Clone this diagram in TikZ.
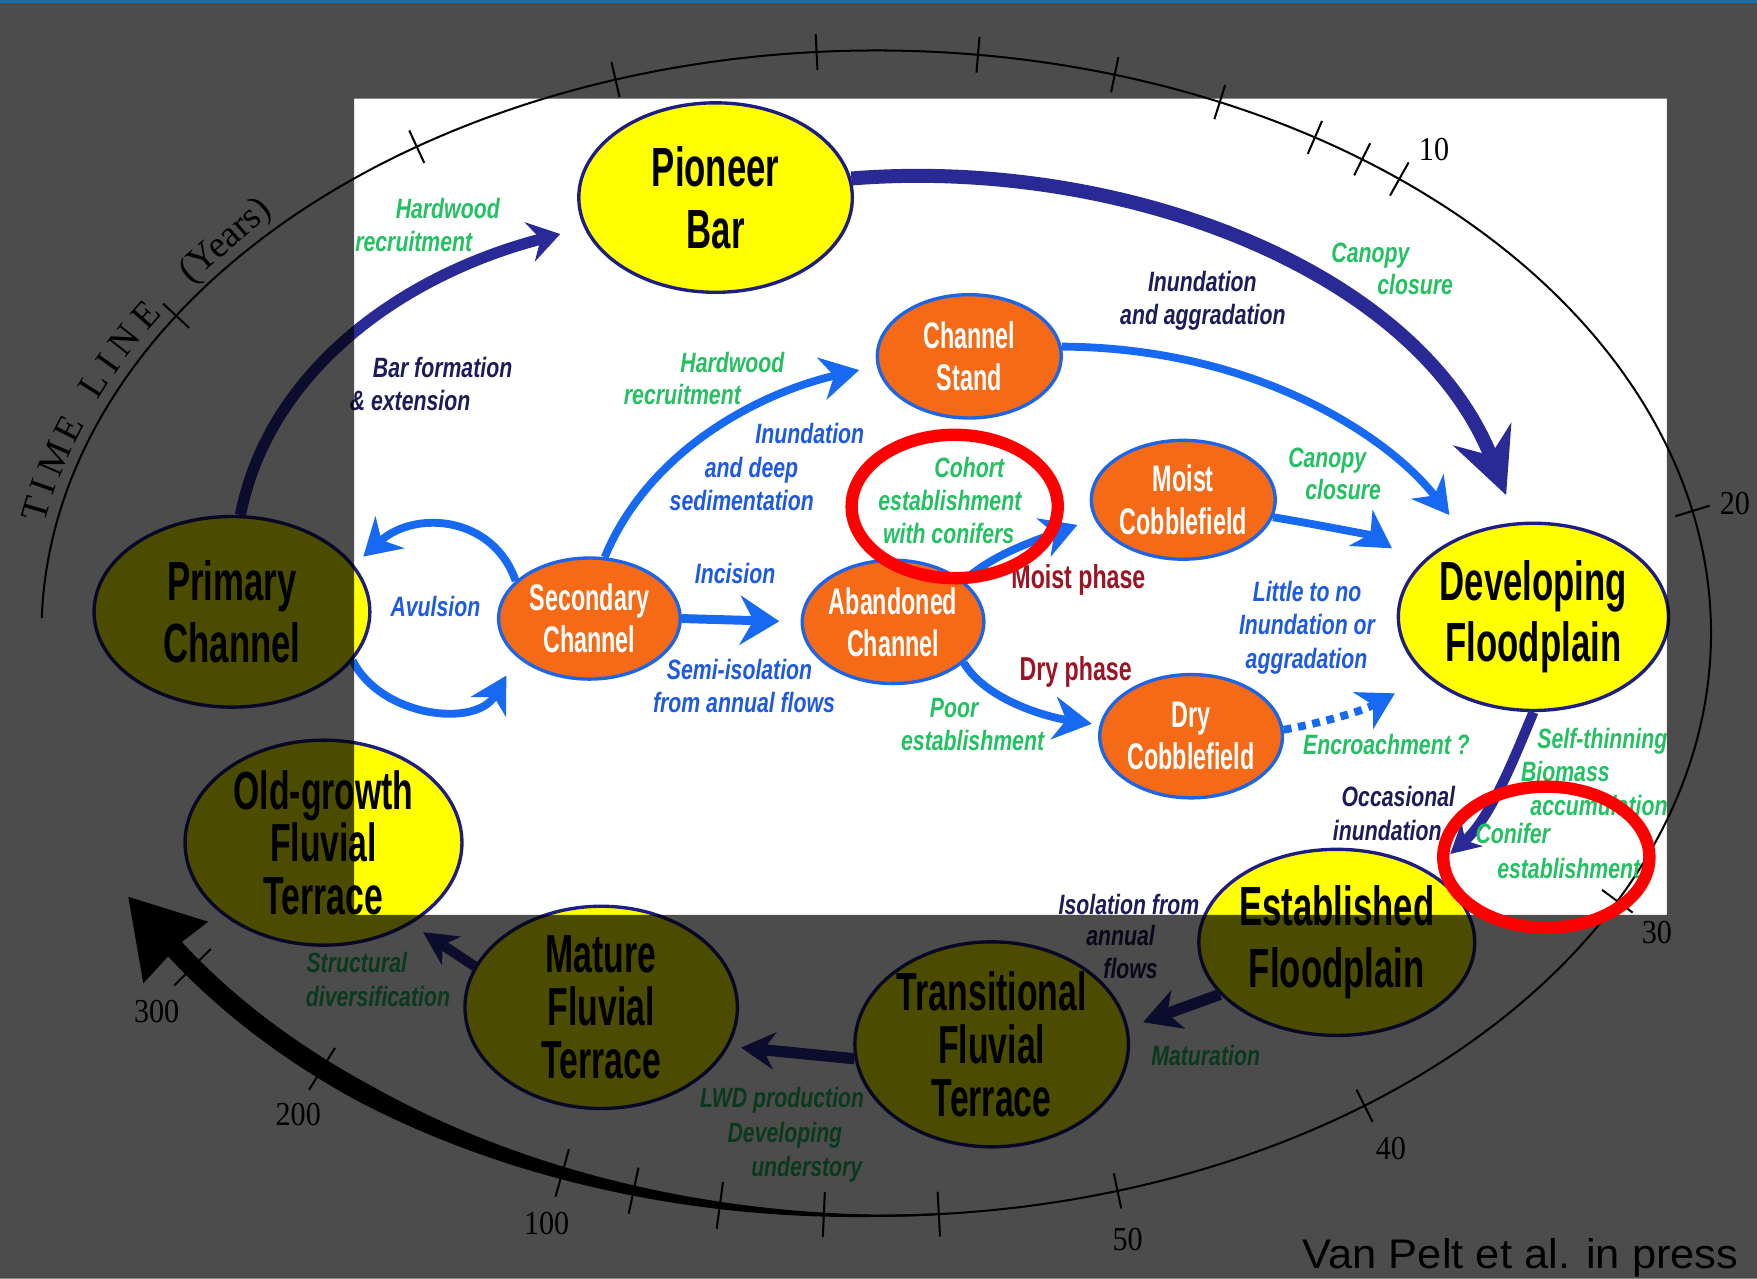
\documentclass[tikz,border=0pt]{standalone}
\usepackage{fontspec}
\usetikzlibrary{shapes.geometric,arrows.meta}
\newfontfamily\nodefont[FakeStretch=0.63]{Liberation Sans}
\newfontfamily\phasefont[FakeStretch=0.7]{Liberation Sans}
\newfontfamily\labfont[FakeStretch=0.76]{Liberation Sans}
\newfontfamily\numfont[FakeStretch=0.9]{Liberation Serif}
\newfontfamily\tlfont{Liberation Serif}
\newfontfamily\creditfont[FakeStretch=1.05]{Liberation Sans}
\definecolor{navyA}{RGB}{42,42,150}
\definecolor{bluA}{RGB}{22,105,240}
\definecolor{navyt}{RGB}{28,28,90}
\definecolor{bluet}{RGB}{30,90,225}
\definecolor{grn}{RGB}{36,192,98}
\definecolor{drk}{RGB}{155,20,35}
\definecolor{org}{RGB}{245,106,22}
\definecolor{ylw}{RGB}{255,255,0}
\definecolor{ylwline}{RGB}{30,30,130}
\definecolor{ornline}{RGB}{30,100,230}
\definecolor{topblue}{RGB}{25,110,175}
\begin{document}
\begin{tikzpicture}[x=0.01cm, y=-0.01cm,
  yel/.style={ellipse, draw=ylwline, line width=0.3mm, fill=ylw, inner sep=0pt, align=center, text=black, font=\nodefont\bfseries\fontsize{14pt}{15.6pt}\selectfont},
  yelthree/.style={yel, font=\nodefont\bfseries\fontsize{13.6pt}{13.4pt}\selectfont},
  orn/.style={ellipse, draw=ornline, line width=0.3mm, fill=org, inner sep=0pt, align=center, text=white, font=\nodefont\bfseries\fontsize{9.4pt}{10.7pt}\selectfont},
  lab/.style={anchor=base, inner sep=0pt, font=\labfont\bfseries\itshape\fontsize{7.1pt}{8pt}\selectfont},
  gl/.style={lab, text=grn},
  bl/.style={lab, text=bluet},
  nl/.style={lab, text=navyt},
  ph/.style={anchor=base, inner sep=0pt, text=drk, font=\phasefont\bfseries\fontsize{8.4pt}{9pt}\selectfont},
  num/.style={inner sep=0pt, font=\numfont\fontsize{8.5pt}{9pt}\selectfont},
  tline/.style={line width=0.18mm, black},
  bluearrow/.style={draw=bluA, line width=0.7mm},
  navyarrow/.style={draw=navyA},
]
\useasboundingbox (0,0) rectangle (1568,1141);
\fill[white] (0,0) rectangle (1568,1141);

% ---------- time line ----------
\draw[tline] plot[domain=181.5:505, samples=240, smooth] ({782+745*cos(\x)},{565+520*sin(\x)});
\foreach \t/\h in {213/16, 236.6/16, 251.8/16, 265.9/16, 277/16, 286.6/16, 294.3/16, 301.7/16, 305.6/16, 308.8/17, 347.9/16, 387.4/17, 414.2/16, 433.2/16, 445.7/20, 453.6/20, 460.8/21, 466.9/21, 472.1/22, 491.6/22, 505/23}{
  \pgfmathsetmacro\cx{782+745*cos(\t)}
  \pgfmathsetmacro\cy{565+520*sin(\t)}
  \pgfmathsetmacro\nx{0.52*cos(\t)}
  \pgfmathsetmacro\ny{0.745*sin(\t)}
  \pgfmathsetmacro\nn{sqrt((\nx)*(\nx)+(\ny)*(\ny))}
  \pgfmathsetmacro\ax{\cx-\h*(\nx)/\nn}
  \pgfmathsetmacro\ay{\cy-\h*(\ny)/\nn}
  \pgfmathsetmacro\bx{\cx+\h*(\nx)/\nn}
  \pgfmathsetmacro\by{\cy+\h*(\ny)/\nn}
  \draw[tline] (\ax,\ay) -- (\bx,\by);
}
\foreach \c/\t [count=\i] in {T/191.7, I/193.9, M/196.6, E/199.6, L/204.1, I/206.3, N/208.7, E/211.5}{
  \pgfmathsetmacro\rot{atan2(-0.52*cos(\t), -0.745*sin(\t))}
  \node[anchor=base, inner sep=0pt, rotate=\rot, font=\tlfont\fontsize{9.5pt}{10pt}\selectfont] (tl\i) at ({782+755*cos(\t)},{565+530*sin(\t)}) {\c};
}
\pgfmathsetmacro\yrot{atan2(-0.52*cos(220.4), -0.745*sin(220.4))+2}
\node[anchor=base, inner sep=0pt, rotate=\yrot, font=\tlfont\fontsize{9.5pt}{10pt}\selectfont] (years) at ({782+755*cos(220.4)},{565+530*sin(220.4)}) {(Years)};
\node[num] (n10) at (1279.8,133.2) {10};
\node[num] (n20) at (1548.3,449.5) {20};
\node[num] (n30) at (1478.6,832.3) {30};
\node[num] (n40) at (1241.3,1025) {40};
\node[num] (n50) at (1006.3,1105.8) {50};
\node[num] (n100) at (487.9,1091.8) {100};
\node[num] (n200) at (266.2,995) {200};
\node[num] (n300) at (139.8,902.9) {300};

% big black arrow along the time line
\fill[black] plot[domain=86:148, samples=50, smooth] ({782+(745+1+8*min(1,max(0,(\x-90)/38)))*cos(\x)},{565+(520+1+8*min(1,max(0,(\x-90)/38)))*sin(\x)})
  -- plot[domain=148:86, samples=50, smooth] ({782+(745-1-8*min(1,max(0,(\x-90)/38)))*cos(\x)},{565+(520-1-8*min(1,max(0,(\x-90)/38)))*sin(\x)}) -- cycle;
\fill[black] (114.5,800.3) -- (185.9,822.6) -- (160.6,841.9) -- (127.9,877.6) -- cycle;

% ---------- nodes ----------
\node[yel, minimum width=2.44cm, minimum height=1.69cm] (pion) at (638.6,176.3) {Pioneer\\Bar};
\node[orn, minimum width=1.64cm, minimum height=1.10cm] (cstand) at (865,318) {Channel\\Stand};
\node[orn, minimum width=1.64cm, minimum height=1.06cm] (moist) at (1056,446) {Moist\\Cobblefield};
\node[yel, minimum width=2.46cm, minimum height=1.70cm] (prim) at (207,546) {Primary\\Channel};
\node[orn, minimum width=1.62cm, minimum height=1.08cm] (sec) at (526,552) {Secondary\\Channel};
\node[orn, minimum width=1.62cm, minimum height=1.10cm] (aband) at (797,555) {Abandoned\\Channel};
\node[yel, minimum width=2.41cm, minimum height=1.67cm] (dev) at (1368.5,550.5) {Developing\\Floodplain};
\node[orn, minimum width=1.63cm, minimum height=1.10cm] (dry) at (1063,657) {Dry\\Cobblefield};
\node[yelthree, minimum width=2.47cm, minimum height=1.68cm] (old) at (288.7,752) {Old-growth\\Fluvial\\Terrace};
\node[yelthree, minimum width=2.43cm, minimum height=1.66cm] (mature) at (536.5,899) {Mature\\Fluvial\\Terrace};
\node[yelthree, minimum width=2.44cm, minimum height=1.70cm] (trans) at (885,932) {Transitional\\Fluvial\\Terrace};
\node[yel, minimum width=2.43cm, minimum height=1.66cm] (estab) at (1193,841) {Established\\Floodplain};

% ---------- connectors ----------
\draw[navyarrow, line width=1mm, -{Stealth[length=2.8mm, width=3.6mm, inset=1mm]}, shorten >=2.2mm]
  (prim.85) .. controls (240,330) and (360,245) .. (pion.193);
\draw[navyarrow, line width=1.25mm, -{Stealth[length=5.8mm, width=5.5mm, inset=2mm]}, shorten >=2.6mm]
  (pion.8) .. controls (1000,140) and (1265,240) .. (dev.100);
\draw[bluearrow, -{Stealth[length=3.2mm, width=3.6mm, inset=1mm]}, shorten >=2.2mm]
  (cstand.6) .. controls (1120,310) and (1240,390) .. (dev.130);
\draw[bluearrow, -{Stealth[length=3.4mm, width=3.8mm, inset=1.1mm]}, shorten >=1.6mm]
  (sec.76) .. controls (580,400) and (680,350) .. (cstand.186);
\draw[bluearrow, line width=0.8mm, -{Stealth[length=3.5mm, width=4.4mm, inset=1.2mm]}, shorten >=1.9mm]
  (sec.east) -- (aband.west);
\draw[bluearrow, -{Stealth[length=3.2mm, width=3.8mm, inset=1mm]}, shorten >=1.1mm]
  (sec.153) .. controls (440,460) and (370,455) .. (prim.21);
\draw[bluearrow, -{Stealth[length=3.2mm, width=3.6mm, inset=1mm]}, shorten >=1.9mm]
  (prim.338) .. controls (340,640) and (425,650) .. (sec.208);
\draw[bluearrow, -{Stealth[length=3.2mm, width=3.6mm, inset=1mm]}, shorten >=1.6mm]
  (aband.30) .. controls (885,495) and (925,482) .. (moist.192);
\draw[bluearrow, -{Stealth[length=3.4mm, width=3.8mm, inset=1.1mm]}, shorten >=0.7mm]
  (aband.330) .. controls (880,625) and (935,640) .. (dry.173);
\draw[bluearrow, -{Stealth[length=3.3mm, width=3.8mm, inset=1mm]}, shorten >=2.8mm]
  (moist.349) .. controls (1175,468) and (1225,478) .. (dev.156);
\draw[bluearrow, dash pattern=on 0.7mm off 0.6mm, -{Stealth[length=3.2mm, width=3.7mm, inset=1mm]}, shorten >=3.2mm]
  (dry.4) .. controls (1180,645) and (1215,635) .. (dev.209);
\draw[navyarrow, line width=0.9mm, -{Stealth[length=2.6mm, width=2.8mm, inset=0.8mm]}, shorten >=2.4mm]
  (dev.south) .. controls (1350,680) and (1330,730) .. (estab.37);
\draw[navyarrow, line width=1mm, -{Stealth[length=3.3mm, width=3.6mm, inset=1mm]}, shorten >=1.4mm]
  (estab.204) -- (trans.7);
\draw[navyarrow, line width=1mm, -{Stealth[length=3mm, width=3.3mm, inset=1mm]}, shorten >=1.1mm]
  (trans.186) -- (mature.343);
\draw[navyarrow, line width=0.9mm, -{Stealth[length=3mm, width=3mm, inset=0.9mm]}, shorten >=1.3mm]
  (mature.162) -- (old.317);

% ---------- labels ----------
\node[gl] (l1) at (399.6,195) {Hardwood};
\node[gl] (l2) at (369.3,224) {recruitment};
\node[nl] (l3) at (395,337) {Bar formation};
\node[nl] (l4) at (366,366) {\& extension};
\node[gl] (l5) at (653.6,332) {Hardwood};
\node[gl] (l6) at (609,361) {recruitment};
\node[bl] (l7) at (722.7,396) {Inundation};
\node[bl] (l8) at (670.7,426) {and deep};
\node[bl] (l9) at (662,456) {sedimentation};
\node[nl] (l10) at (1073,260) {Inundation};
\node[nl] (l11) at (1073.5,290) {and aggradation};
\node[gl] (l12) at (1223,234) {Canopy};
\node[gl] (l13) at (1263,263) {closure};
\node[gl] (l14) at (865,426) {Cohort};
\node[gl] (l15) at (847.7,456) {establishment};
\node[gl] (l16) at (846.6,485) {with conifers};
\node[gl] (l17) at (1184.5,417) {Canopy};
\node[gl] (l18) at (1198.7,446) {closure};
\node[ph] (l19) at (962.4,525) {Moist phase};
\node[ph] (l20) at (960,607) {Dry phase};
\node[bl] (l21) at (656,521) {Incision};
\node[bl] (l22) at (388.6,550) {Avulsion};
\node[bl] (l23) at (660,606) {Semi-isolation};
\node[bl] (l24) at (664,636) {from annual flows};
\node[gl] (l25) at (851.5,640) {Poor};
\node[gl] (l26) at (868,670) {establishment};
\node[bl] (l27) at (1166.5,537) {Little to no};
\node[bl] (l28) at (1166.4,566) {Inundation or};
\node[bl] (l29) at (1166,597) {aggradation};
\node[gl] (l30) at (1237.3,673) {Encroachment ?};
\node[gl] (l31) at (1430,668) {Self-thinning};
\node[gl] (l32) at (1397,697) {Biomass};
\node[gl] (l33) at (1427,728) {accumulation};
\node[gl] (l34) at (1350,753) {Conifer};
\node[gl] (l35) at (1400,784) {establishment};
\node[nl] (l36) at (1248,720) {Occasional};
\node[nl] (l37) at (1238,750) {inundation};
\node[nl] (l38) at (1007.5,816) {Isolation from};
\node[nl] (l39) at (1000,844) {annual};
\node[nl] (l40) at (1009,873) {flows};
\node[gl] (l41) at (1076,951) {Maturation};
\node[gl] (l42) at (698,988) {LWD production};
\node[gl] (l43) at (700.5,1020) {Developing};
\node[gl] (l44) at (720,1050) {understory};
\node[gl] (l45) at (318.4,868) {Structural};
\node[gl] (l46) at (337.3,898) {diversification};

% ---------- dimming outside the highlighted window ----------
\fill[black, fill opacity=0.7, even odd rule] (0,0) rectangle (1568,1141) (316,88) rectangle (1487.5,816.5);

% ---------- red highlight rings ----------
\draw[red, line width=1.1mm] (852,452) ellipse [x radius=92, y radius=64];
\draw[red, line width=1.1mm] (1380,765) ellipse [x radius=92, y radius=63];

\node[anchor=base west, inner sep=0pt, font=\creditfont\fontsize{10.5pt}{12pt}\selectfont] (credit) at (1162,1132) {Van Pelt et al. in press};
\fill[topblue] (0,0) rectangle (1568,3);
\end{tikzpicture}
\end{document}
